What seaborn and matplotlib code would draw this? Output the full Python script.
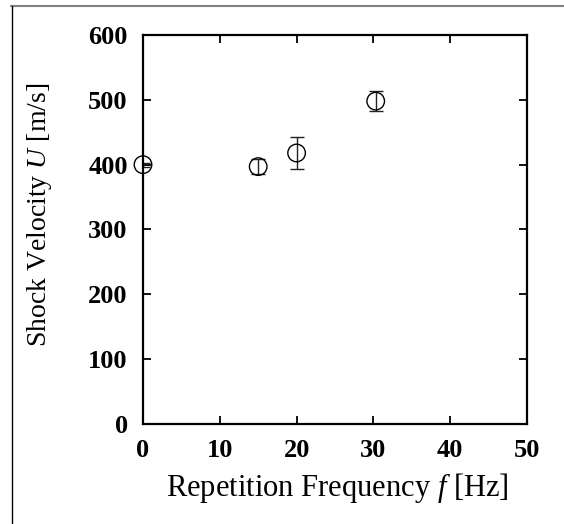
import numpy as np
import pandas as pd
import seaborn as sns
import matplotlib.pyplot as plt
from matplotlib.lines import Line2D

freq = [0, 15, 20, 30.3]
velocity = [400, 397, 418, 498]
err = [3, 11, 24, 15]

df = pd.DataFrame({"f": freq, "U": velocity, "err": err})

sns.set_style("ticks", {"text.color": "black", "axes.labelcolor": "black",
                        "xtick.color": "black", "ytick.color": "black"})
plt.rcParams['font.family'] = ['Liberation Serif', 'DejaVu Serif']
plt.rcParams['mathtext.fontset'] = 'custom'
plt.rcParams['mathtext.it'] = 'Liberation Serif:italic'

fig = plt.figure(figsize=(5.64, 5.24), dpi=100)
ax = fig.add_axes([143/564, 1 - 424/524, (527-143)/564, (424-35)/524])

ax.errorbar(df["f"], df["U"], yerr=df["err"], fmt="none", ecolor="#222222",
            elinewidth=1, capsize=5, capthick=1)
sns.scatterplot(data=df, x="f", y="U", ax=ax, marker="o", s=160,
                facecolor="none", edgecolor="black", linewidth=1, zorder=3,
                clip_on=False)

ax.set_xlim(0, 50)
ax.set_ylim(0, 600)
ax.set_xticks(range(0, 51, 10))
ax.set_yticks(range(0, 601, 100))
ax.tick_params(direction="in", length=6, width=1.3, top=True, right=True,
               labelsize=19, colors="black")
ax.tick_params(axis="x", pad=11)
ax.tick_params(axis="y", pad=11)
for lab in ax.get_xticklabels() + ax.get_yticklabels():
    lab.set_fontweight("bold")
for s in ax.spines.values():
    s.set_linewidth(1.6)
    s.set_color("black")

ax.set_xlabel("Repetition Frequency $\\mathit{f}$ [Hz]", fontsize=22, color="black")
ax.set_ylabel("Shock Velocity $\\mathit{U}$ [m/s]", fontsize=20, color="black")
ax.xaxis.set_label_coords(0.505, -(488 - 424) / 389, transform=ax.transAxes)
ax.xaxis.label.set_va("center")
ax.yaxis.set_label_coords(-(143 - 40) / 384, (424 - 215) / 389, transform=ax.transAxes)
ax.yaxis.label.set_va("center")

# outer frame of the figure
fig.add_artist(Line2D([11/564, 1], [1 - 5.5/524, 1 - 5.5/524], color="gray", lw=1.5))
fig.add_artist(Line2D([11.5/564, 11.5/564], [0, 1 - 5.5/524], color="black", lw=1))

fig.savefig("out.png", dpi=100)
